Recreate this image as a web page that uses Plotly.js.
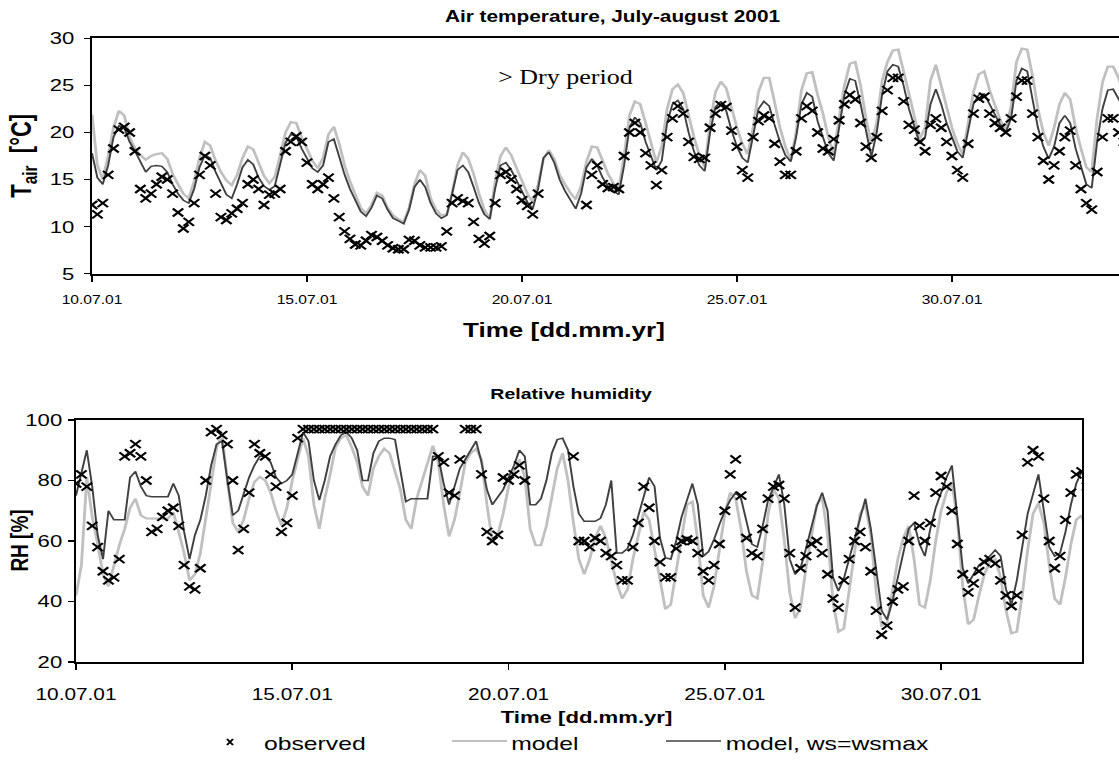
<!DOCTYPE html>
<html>
<head>
<meta charset="utf-8">
<script src="https://cdn.plot.ly/plotly-3.0.1.min.js"></script>
<style>
html,body{margin:0;padding:0;overflow:hidden;background:#fff;}
#wrap{width:1125px;height:763px;overflow:hidden;}
#chart{width:865px;height:763px;transform:scaleX(1.30058);transform-origin:0 0;}
</style>
</head>
<body>
<div id="wrap"><div id="chart"></div></div>
<script>
// ---------------- DATA (3-hourly readings, starting 10.07.2001 00:00) ----------------
const startDate = [2001, 6, 10];   // 10 July 2001 (month 0-based)
const stepHours = 3;
const tickLabelsFormat = '%d.%m.%y';

// Air temperature [°C]
const tempModel = [
  21.9,16.5,15.0,17.5,20.5,22.3,21.8,19.5,
  18.3,17.6,17.1,17.5,17.7,17.8,17.2,15.6,
  14.5,13.5,13.0,14.8,17.3,19.0,18.6,17.0,
  15.8,14.9,14.4,15.5,17.3,18.5,18.2,16.8,
  15.4,14.6,15.3,17.5,20.0,21.1,21.0,19.5,
  18.2,17.0,16.2,17.3,19.8,20.6,18.8,16.5,
  14.8,13.3,12.0,11.4,12.3,13.6,13.3,12.0,
  11.2,10.8,10.5,12.0,14.5,16.0,15.4,13.0,
  11.8,11.2,11.3,13.5,16.5,17.9,17.2,15.6,
  13.5,11.8,10.8,14.8,17.5,18.4,17.6,16.2,
  14.8,13.5,12.6,14.5,17.2,18.1,17.2,15.5,
  14.5,13.6,12.9,14.3,16.9,18.5,18.4,16.9,
  15.6,14.6,14.0,17.5,21.8,23.3,23.0,21.0,
  19.0,16.8,18.5,22.5,24.6,25.1,24.2,21.8,
  19.5,17.6,16.3,21.0,24.3,25.4,24.7,22.6,
  20.5,18.8,17.7,20.5,24.3,25.8,25.8,23.2,
  20.5,18.5,17.0,20.0,24.5,26.3,26.4,24.0,
  22.0,19.5,17.7,21.5,25.0,27.3,27.5,25.0,
  21.5,18.8,21.0,25.5,27.5,28.7,28.8,26.5,
  24.0,21.5,19.3,20.5,25.5,27.2,25.0,22.6,
  20.5,18.8,17.7,21.0,24.3,26.2,26.5,24.5,
  22.8,21.3,20.2,22.8,27.5,28.9,28.8,26.0,
  22.5,20.0,18.6,20.5,23.0,24.2,23.5,20.5,
  18.3,16.3,15.8,21.5,25.3,27.0,27.0,25.8,
  24.0
];
const tempModelWsmax = [
  17.8,15.2,14.5,16.5,19.5,20.7,20.5,19.0,
  18.0,16.8,15.8,16.4,16.5,16.4,15.8,14.5,
  13.5,12.8,12.5,14.0,16.3,17.6,17.3,15.8,
  14.5,13.4,13.0,14.5,16.3,17.1,16.6,15.2,
  14.3,13.9,14.3,16.5,18.9,19.8,19.6,18.3,
  17.2,16.2,15.8,16.5,19.0,19.3,17.4,15.5,
  14.0,12.8,11.6,11.1,12.0,13.3,13.0,11.8,
  10.9,10.6,10.3,11.8,14.2,15.0,14.2,12.5,
  11.4,10.9,11.2,13.5,16.0,16.5,15.8,14.2,
  12.5,11.3,10.8,14.0,16.5,16.8,16.0,14.9,
  13.7,12.6,11.9,14.0,17.3,17.9,16.8,15.0,
  13.8,12.8,11.9,13.5,16.3,17.2,16.5,15.2,
  14.3,13.8,13.4,16.5,20.5,21.6,21.0,19.0,
  17.5,16.0,17.0,21.0,23.0,23.4,22.5,20.0,
  18.0,16.5,15.9,20.0,22.7,23.3,22.3,20.2,
  18.5,17.3,16.8,19.5,22.5,23.3,22.8,20.8,
  19.0,17.6,16.9,19.5,23.0,24.2,23.8,21.2,
  19.5,17.8,17.0,20.5,24.0,25.7,25.5,23.0,
  20.0,17.4,20.0,24.0,26.5,27.2,27.0,25.0,
  22.5,20.5,18.8,19.5,23.0,24.6,23.0,21.0,
  19.5,18.0,17.3,20.0,23.0,24.0,24.1,23.0,
  21.8,20.8,20.0,21.5,25.5,26.8,26.5,23.5,
  20.5,18.5,17.2,18.5,21.0,21.8,21.0,18.3,
  16.5,14.5,14.1,19.0,22.5,24.5,24.6,23.6,
  22.5
];
const tempObserved = [
  12.3,11.3,12.5,15.5,18.3,20.3,20.6,20.0,
  18.0,14.0,13.0,13.5,14.5,15.3,15.0,13.5,
  11.5,9.8,10.5,12.5,15.5,17.5,16.5,13.5,
  11.0,10.7,11.4,11.9,12.5,14.5,15.0,14.0,
  12.3,13.4,13.5,14.0,18.0,19.0,19.6,19.0,
  16.8,14.5,14.0,14.5,15.2,13.0,11.0,9.5,
  8.7,8.1,8.0,8.5,9.1,8.9,8.5,8.0,
  7.7,7.6,7.6,8.6,8.5,8.0,7.8,7.8,
  7.8,7.9,9.5,12.5,13.0,12.7,12.5,10.5,
  8.7,8.2,9.0,12.5,15.5,15.8,15.0,14.0,
  12.8,12.2,11.3,13.5,null,null,null,null,
  null,null,null,null,12.3,15.5,16.5,14.5,
  14.1,14.2,14.0,17.5,20.0,21.0,20.0,17.8,
  16.5,14.4,16.0,19.5,21.5,22.8,22.0,19.0,
  17.4,17.2,17.3,20.5,22.0,22.9,22.7,20.2,
  18.5,16.0,15.2,19.5,21.2,21.8,21.5,18.8,
  16.9,15.5,15.5,18.0,21.5,22.8,22.3,20.0,
  18.3,18.0,19.3,21.3,23.0,24.0,23.5,21.0,
  18.5,17.3,19.5,22.3,24.5,25.8,25.8,23.3,
  20.8,20.3,19.0,18.0,20.8,21.5,20.5,19.0,
  17.5,16.0,15.2,18.8,22.0,23.6,23.8,22.0,
  21.0,20.5,20.0,21.5,23.8,25.5,25.5,22.0,
  19.5,17.0,15.0,16.5,18.0,19.5,20.2,16.5,
  14.0,12.5,11.8,15.8,19.5,21.5,21.5,20.0,
  19.0
];

// Relative humidity [%]
const rhModel = [
  42,52,81,68,59,49,45,52,
  58.5,64,71,74,68.5,67.5,67.4,67.4,
  67.4,67.4,69.5,63,56,47,49,56,
  67,79,91,95,80,66,63,67,
  74,79.5,81.2,80,76,70,65.2,71,
  80,87,94,88,72,64,74,82,
  91,94,95,91,86,78,75,84,
  88,90.5,89,83,77,67,64,74,
  80,86,91.5,86,72,61.5,67,76,
  86,89,90.5,87,72,60,62,69,
  78,83,87,81,64,58.6,58.6,65,
  75,84,89,80,66,54,49,54,
  61,65,61,53,46,41,44,54,
  62,69.5,67,57,46,37.5,39,50,
  63,72,73,60,42,38,45,57,
  69,76,74,64,50,42,41,53,
  69,77,74,60,43,34.5,38,51,
  62,72,74.5,62,40,30,31,44,
  58,69,72,62,43,32,33,44,
  54,61,65,54,39,38,47,60,
  70,76,79.5,67,45,32.5,34,42,
  49,53,54,48,37,29.5,30,42,
  57,69,72.5,66,52,41,39,48,
  59,67,68.5,62,50,42,40,48,
  58
];
const rhModelWsmax = [
  75,83,90,78,62,54,70,67,
  67,67,81,83,78,75,74.6,74.6,
  74.6,74.6,79,75,63,54,62,67,
  75,85,92,93,80,68.5,70,76,
  81,85,88,88,86,81,79,80,
  82,89,96,93,80,73.5,80,88,
  92,95,96,94,90,80,80,89,
  93,94,94,93.5,84,73,74,74,
  74,74,88,88,79,72,78,84,
  87,90,93,86,77,72,74.5,77,
  81,85,90,88,72,72,74,80,
  89,93.5,94,90,78,69,66.5,66.5,
  66.5,67.5,72,80,56,56,57.5,62,
  68,74,81,78,61,54.5,54,60,
  68,73.5,79,72,55,56.5,60.5,65.5,
  70,73.5,76,74,67,59,58,65,
  73.5,77.5,82,72,54,49,51,57.5,
  65,71.5,76,70,48,43.5,47.5,54,
  60,66.5,74,64,51,37,34,40,
  48,56,64,66,59,55,64,71,
  76.5,81,85,68,51,46,49,52,
  53.5,55,57,55,44,39,47,59,
  69,75.5,82,70,58,55,56,63,
  72,79,83,78,66,58,57,65,
  74
];
const rhObserved = [
  79,82,78,65,58,50,47,48,
  54,88,89,92,88,80,63,64,
  68,70,71,65,52,45,44,51,
  80,96,97,95,92,80,57,64,
  76,92,89,88,82,78,63,66,
  75,94,97,97,97,97,97,97,
  97,97,97,97,97,97,97,97,
  97,97,97,97,97,97,97,97,
  97,97,97,88,86,76,75,87,
  97,97,97,82,63,60,62,81,
  80,82,85,80,null,null,null,null,
  null,null,null,null,88,60,60,58,
  61,60,56,55,52,47,47,58,
  66,78,71,60,53,48,48,57.5,
  60,60.5,60,56,50,47,52,59,
  70,82,87,75,61,56,55,64,
  74,78,78.5,74,56,38,51,55,
  59,60,56,49,41,38,47,54,
  60,63,58,50,37,29,32,40,
  44,45,60,75,65,60,66,76,
  81.5,78,70,59,49,43,46,50,
  53,54,52.5,47,42,38.5,42,62,
  86,90,88,74,60,51,55,67,
  76,82,83,78,70,62,60,66,
  74
];

const seriesNames = ['observed', 'model', 'model, ws=wsmax'];

// ---------------- TIME AXIS ----------------
function buildTimes(n) {
  const t0 = Date.UTC(startDate[0], startDate[1], startDate[2]);
  const out = [];
  for (let i = 0; i < n; i++) {
    const d = new Date(t0 + i * stepHours * 3600 * 1000);
    out.push(d.toISOString().slice(0, 16).replace('T', ' '));
  }
  return out;
}
const times = buildTimes(tempModel.length);

// ---------------- LAYOUT GEOMETRY ----------------
// The original figure is horizontally stretched; the plot is drawn at DW wide and stretched by CSS.
const W = 1125, H = 763, DW = 865;
const px = v => v / W;          // paper fraction from on-screen x pixel
const py = v => 1 - v / H;      // paper fraction from on-screen y pixel

const lightGrey = '#c0c0c0';
const darkGrey = '#404040';
const FONT = 'Arial, "Liberation Sans", sans-serif';

function lineTrace(y, xa, ya, color, width, name) {
  return {x: times, y: y, xaxis: xa, yaxis: ya, type: 'scatter', mode: 'lines',
    line: {color: color, width: width}, name: name, showlegend: false, connectgaps: false,
    hoverinfo: 'skip'};
}
function obsTrace(y, xa, ya) {
  return {x: times, y: y, xaxis: xa, yaxis: ya, type: 'scatter', mode: 'markers',
    marker: {symbol: 'x-thin', size: 8, color: '#000', line: {color: '#000', width: 1.9}},
    name: seriesNames[0], showlegend: false, hoverinfo: 'skip'};
}

const traces = [
  lineTrace(tempModel, 'x', 'y', lightGrey, 2.2, seriesNames[1]),
  lineTrace(tempModelWsmax, 'x', 'y', darkGrey, 1.5, seriesNames[2]),
  obsTrace(tempObserved, 'x', 'y'),
  lineTrace(rhModel, 'x2', 'y2', lightGrey, 2.2, seriesNames[1]),
  lineTrace(rhModelWsmax, 'x2', 'y2', darkGrey, 1.5, seriesNames[2]),
  obsTrace(rhObserved, 'x2', 'y2')
];

const DAY = 86400000;
const xBase = {
  showgrid: false, zeroline: false, showline: true, linecolor: '#000', linewidth: 2,
  mirror: true, ticks: 'outside', ticklen: 6, tickwidth: 1.2, tickcolor: '#000'
};
const yBase = {
  showgrid: false, zeroline: false, showline: true, linecolor: '#000', linewidth: 1.6,
  mirror: true, ticks: 'outside', ticklen: 4.6, tickwidth: 1.5, tickcolor: '#000'
};

const layout = {
  width: DW, height: H,
  margin: {l: 0, r: 0, t: 0, b: 0},
  paper_bgcolor: '#fff', plot_bgcolor: '#fff',
  showlegend: false,
  font: {family: FONT, color: '#000'},
  xaxis: Object.assign({}, xBase, {
    type: 'date', domain: [px(92), 1], anchor: 'y',
    range: ['2001-07-10 00:00', '2001-08-03 00:35'],
    tick0: '2001-07-10', dtick: 5 * DAY, tickformat: tickLabelsFormat,
    tickfont: {size: 12, family: FONT}, ticklabelstandoff: 8
  }),
  yaxis: Object.assign({}, yBase, {
    domain: [py(273.7), py(38.3)], anchor: 'x', range: [5, 30], dtick: 5,
    tickfont: {size: 17, family: FONT}, ticklabelstandoff: 4
  }),
  xaxis2: Object.assign({}, xBase, {
    type: 'date', domain: [px(76), px(1082)], anchor: 'y2',
    range: ['2001-07-10 00:00', '2001-08-02 06:10'],
    tick0: '2001-07-10', dtick: 5 * DAY, tickformat: tickLabelsFormat,
    tickfont: {size: 16, family: FONT}, ticklabelstandoff: 11
  }),
  yaxis2: Object.assign({}, yBase, {
    domain: [py(662), py(420)], anchor: 'x2', range: [20, 100], dtick: 20,
    tickfont: {size: 17, family: FONT}, ticklabelstandoff: 1
  }),
  annotations: [
    {text: '<b>Air temperature, July-august 2001</b>', x: px(613), y: py(17), xref: 'paper', yref: 'paper',
     xanchor: 'center', yanchor: 'middle', showarrow: false, font: {size: 16, family: FONT}},
    {text: '<b>T<sub>air</sub>  [°C]</b>', x: px(23), y: py(156), xref: 'paper', yref: 'paper',
     xanchor: 'center', yanchor: 'middle', textangle: -90, showarrow: false, font: {size: 22, family: FONT}},
    {text: '<b>Time [dd.mm.yr]</b>', x: px(564), y: py(330), xref: 'paper', yref: 'paper',
     xanchor: 'center', yanchor: 'middle', showarrow: false, font: {size: 20, family: FONT}},
    {text: '> Dry period', x: px(496), y: py(77), xref: 'paper', yref: 'paper',
     xanchor: 'left', yanchor: 'middle', showarrow: false, font: {size: 20, family: '"Liberation Serif", "Times New Roman", serif'}},
    {text: '<b>Relative humidity</b>', x: px(571), y: py(393), xref: 'paper', yref: 'paper',
     xanchor: 'center', yanchor: 'middle', showarrow: false, font: {size: 15, family: FONT}},
    {text: '<b>RH [%]</b>', x: px(19), y: py(541), xref: 'paper', yref: 'paper',
     xanchor: 'center', yanchor: 'middle', textangle: -90, showarrow: false, font: {size: 19, family: FONT}},
    {text: '<b>Time [dd.mm.yr]</b>', x: px(587), y: py(717), xref: 'paper', yref: 'paper',
     xanchor: 'center', yanchor: 'middle', showarrow: false, font: {size: 17, family: FONT}},
    {text: seriesNames[0], x: px(261), y: py(743), xref: 'paper', yref: 'paper',
     xanchor: 'left', yanchor: 'middle', showarrow: false, font: {size: 19, family: FONT}},
    {text: seriesNames[1], x: px(509), y: py(743), xref: 'paper', yref: 'paper',
     xanchor: 'left', yanchor: 'middle', showarrow: false, font: {size: 19, family: FONT}},
    {text: seriesNames[2], x: px(723), y: py(743), xref: 'paper', yref: 'paper',
     xanchor: 'left', yanchor: 'middle', showarrow: false, font: {size: 19, family: FONT}}
  ],
  shapes: [
    // legend keys
    {type: 'path', xref: 'paper', yref: 'paper',
     path: `M${px(227)},${py(739)} L${px(233)},${py(745)} M${px(227)},${py(745)} L${px(233)},${py(739)}`,
     line: {color: '#000', width: 1.6}},
    {type: 'line', xref: 'paper', yref: 'paper', x0: px(452), x1: px(507), y0: py(741), y1: py(741),
     line: {color: lightGrey, width: 2.2}},
    {type: 'line', xref: 'paper', yref: 'paper', x0: px(666), x1: px(721), y0: py(741), y1: py(741),
     line: {color: darkGrey, width: 1.5}}
  ]
};

Plotly.newPlot('chart', traces, layout, {staticPlot: true, displayModeBar: false});
</script>
</body>
</html>
